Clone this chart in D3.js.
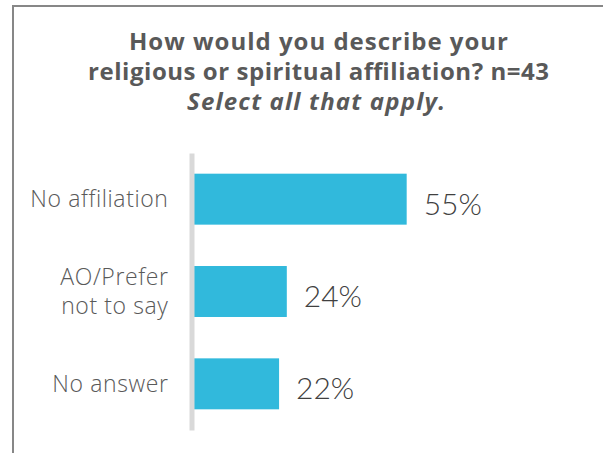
<!DOCTYPE html>
<html>
<head>
<meta charset="utf-8">
<script src="https://cdn.jsdelivr.net/npm/d3@7"></script>
<style>
  body { margin: 0; background: #fff; }
</style>
</head>
<body>
<div id="chart"></div>
<script>
// data
const categories = ["No affiliation", "AO/Prefer\nnot to say", "No answer"];
const values = [55, 24, 22];
const valueLabels = ["55%", "24%", "22%"];
const titleLines = ["How would you describe your", "religious or spiritual affiliation? n=43"];
const subtitle = "Select all that apply.";

const W = 603, H = 453;
const titleFont = "'Open Sans', Lato, sans-serif";
const labelFont = "'Open Sans', Lato, sans-serif";
const valueFont = "Lato, 'Open Sans', sans-serif";

const svg = d3.select("#chart")
  .append("svg")
  .attr("width", W)
  .attr("height", H);

// frame (left and top edges only are visible)
svg.append("line")
  .attr("x1", 13).attr("x2", 13).attr("y1", 5).attr("y2", H)
  .attr("stroke", "#878787").attr("stroke-width", 2);
svg.append("line")
  .attr("x1", 12).attr("x2", W).attr("y1", 6).attr("y2", 6)
  .attr("stroke", "#878787").attr("stroke-width", 2);

// title - the original face is wider, so stretch the spacing to its widths
const titleWidths = [379, 461];
titleLines.forEach(function (t, i) {
  svg.append("text")
    .attr("x", 318.5)
    .attr("y", 49.5 + i * 30)
    .attr("text-anchor", "middle")
    .attr("font-family", titleFont)
    .attr("font-weight", 700)
    .attr("font-size", 24)
    .attr("fill", "#595959")
    .attr("textLength", titleWidths[i])
    .attr("lengthAdjust", "spacing")
    .text(t);
});
svg.append("text")
  .attr("x", 316)
  .attr("y", 110)
  .attr("text-anchor", "middle")
  .attr("font-family", titleFont)
  .attr("font-weight", 700)
  .attr("font-style", "italic")
  .attr("font-size", 24)
  .attr("fill", "#595959")
  .attr("textLength", 258)
  .attr("lengthAdjust", "spacing")
  .text(subtitle);

// scales
const y = d3.scaleBand()
  .domain(categories)
  .range([153, 430])
  .paddingInner(0.448)
  .paddingOuter(0.224);

const x = d3.scaleLinear()
  .domain([0, 100])
  .range([194, 194 + 386.7]);

// bars
svg.append("g")
  .selectAll("rect")
  .data(values)
  .join("rect")
  .attr("x", x(0))
  .attr("y", function (d, i) { return y(categories[i]); })
  .attr("width", function (d) { return x(d) - x(0); })
  .attr("height", y.bandwidth())
  .attr("fill", "#31b9dc");

// category axis
const yAxis = svg.append("g")
  .attr("transform", "translate(191.5,0)")
  .call(d3.axisLeft(y).tickSize(0).tickPadding(23).tickSizeOuter(0));

yAxis.select(".domain")
  .attr("stroke", "#d9d9d9")
  .attr("stroke-width", 5);

yAxis.selectAll(".tick text")
  .attr("font-family", labelFont)
  .attr("font-weight", 300)
  .attr("font-size", 23)
  .attr("letter-spacing", 0.6)
  .attr("fill", "#595959")
  .each(function (d) {
    const lines = d.split("\n");
    const t = d3.select(this).text(null).attr("dy", null);
    lines.forEach(function (line, i) {
      t.append("tspan")
        .attr("x", -23)
        .attr("y", (i - (lines.length - 1) / 2) * 29 + 8)
        .text(line);
    });
  });

// value labels
svg.append("g")
  .selectAll("text")
  .data(values)
  .join("text")
  .attr("x", function (d) { return x(d) + 17; })
  .attr("y", function (d, i) { return y(categories[i]) + y.bandwidth() / 2 + 15.5; })
  .attr("font-family", valueFont)
  .attr("font-weight", 300)
  .attr("font-size", 30)
  .attr("fill", "#404040")
  .text(function (d, i) { return valueLabels[i]; });
</script>
</body>
</html>
